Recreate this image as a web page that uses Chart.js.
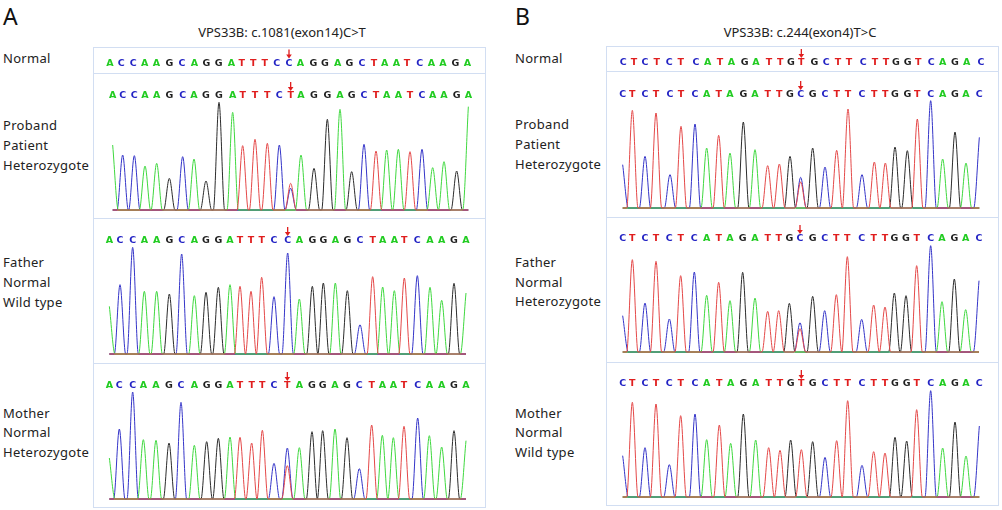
<!DOCTYPE html>
<html><head><meta charset="utf-8">
<script src="https://cdn.jsdelivr.net/npm/chart.js@4.4.1/dist/chart.umd.min.js"></script>
<style>
body{margin:0;width:1002px;height:510px;background:#fff;position:relative;overflow:hidden;font-family:"Noto Sans","Open Sans",sans-serif;color:#222}
.t{position:absolute;white-space:nowrap;font-size:13px;line-height:18px;letter-spacing:0.3px}
.big{position:absolute;font-size:23px;line-height:26px;color:#111}
.ttl{position:absolute;font-size:13px;line-height:16px;white-space:nowrap;transform:translateX(-50%)}
.cell{position:absolute;border:1px solid #d2def2;box-sizing:border-box}
canvas{position:absolute;display:block}
</style></head>
<body>
<script>
// ---------- DATA ----------
const seqA_normal  = "ACCAAGCAGGATTTCCAGGAGCTAATCAAGA".split("");
const seqA_proband = "ACCAAGCAGGATTTCTAGGAGCTAATCAAGA".split("");
const seqA_father  = "ACCAAGCAGGATTTCCAGGAGCTAATCAAGA".split("");
const seqA_mother  = "ACCAAGCAGGATTTCTAGGAGCTAATCAAGA".split("");
const seqB_normal  = "CTCTCTCATAGATTGTGCTTCTTGGTCAGAC".split("");
const seqB_proband = "CTCTCTCATAGATTGCGCTTCTTGGTCAGAC".split("");
const seqB_father  = "CTCTCTCATAGATTGCGCTTCTTGGTCAGAC".split("");
const seqB_mother  = "CTCTCTCATAGATTGTGCTTCTTGGTCAGAC".split("");
const mutIndex = 15;

// base-call scan positions
const posA_proband = [38,68,103,135,170,208,248,282,318,357,398,428,465,502,538,572,603,642,682,720,755,792,828,860,895,930,966,998,1032,1070,1105];
const posA_father  = [28,60,98,133,170,208,245,283,318,355,390,420,453,485,522,563,598,637,670,706,742,780,818,848,883,913,952,990,1025,1062,1098];
const posA_mother  = [28,58,98,130,168,207,243,283,320,355,390,420,455,487,522,562,598,636,668,705,741,778,815,847,880,912,953,988,1025,1062,1098];
const posA_normal  = [30,64,100,134,169,208,246,283,319,356,394,425,460,494,530,567,601,640,675,713,748,786,822,854,889,921,959,994,1029,1066,1102];
const posB_proband = [38,67,105,138,180,213,255,290,326,360,400,435,473,508,540,572,608,645,680,714,756,793,826,855,892,922,962,998,1035,1068,1108];
const posB_father  = [38,67,105,138,178,212,253,290,326,360,398,435,473,506,538,570,608,644,679,712,755,791,825,853,888,920,962,996,1033,1067,1107];
const posB_mother  = [38,67,105,138,178,212,255,290,328,362,400,437,476,510,542,574,608,645,680,713,756,791,825,855,890,920,962,998,1035,1068,1108];
const posB_normal  = [40,72,105,140,178,212,258,293,330,364,404,438,477,511,543,574,613,649,684,717,760,795,828,858,893,925,964,998,1035,1070,1113];

// peak intensities of the called base
const hA_proband = [195,165,163,132,140,95,160,153,87,323,293,193,212,200,195,80,165,125,272,302,115,197,177,180,182,175,182,127,145,117,310];
const hA_father  = [143,208,320,188,188,180,300,175,185,200,208,203,188,230,172,303,165,203,213,213,190,88,232,201,190,228,235,200,161,212,183];
const hA_mother  = [123,210,321,178,176,168,290,161,172,182,186,185,168,206,107,100,154,202,205,210,184,91,222,191,184,218,243,190,156,205,175];
const hB_proband = [130,293,155,285,100,245,252,180,218,165,258,175,127,132,155,92,180,123,173,297,100,138,135,183,172,267,322,147,228,135,212];
const hB_father  = [109,277,147,272,99,229,240,170,209,154,239,162,122,124,146,88,167,124,172,286,98,141,135,177,169,259,319,151,219,127,214];
const hB_mother  = [124,284,148,279,97,244,249,172,216,161,249,171,148,140,171,142,166,119,169,289,95,136,132,179,168,262,319,147,225,123,213];

// secondary (heterozygous) peaks: [index, base, intensity]
const secA_proband = [[15,"C",65]];
const secA_mother  = [[15,"C",153]];
const secB_proband = [[15,"T",78]];
const secB_father  = [[15,"T",70]];

const titleA = "VPS33B: c.1081(exon14)C>T";
const titleB = "VPS33B: c.244(exon4)T>C";
const labelsA = [["Normal"],["Proband","Patient","Heterozygote"],["Father","Normal","Wild type"],["Mother","Normal","Heterozygote"]];
const labelsB = [["Normal"],["Proband","Patient","Heterozygote"],["Father","Normal","Heterozygote"],["Mother","Normal","Wild type"]];

// ---------- STYLE / LAYOUT ----------
const letterColor = {A:"#22cc22",C:"#2323c4",G:"#1e1e1e",T:"#e01e1e"};
const traceColor  = {A:"#3fd83f",C:"#3434c8",G:"#2b2b2b",T:"#e44848"};

const panels = [
  {letter:"A", letterX:3, title:titleA, titleX:282, originX:100, L:93, R:485, rows:[47,73,218,363,507], base:[null,210,354,499], labelX:3,
   labels:labelsA, labelY:[[58],[125,145,165],[262,282,302],[413,432,452]],
   seqs:[seqA_normal,seqA_proband,seqA_father,seqA_mother], pos:[posA_normal,posA_proband,posA_father,posA_mother],
   hts:[null,hA_proband,hA_father,hA_mother], sec:[[],secA_proband,[],secA_mother], letterOff:[15.5,22,22,22]},
  {letter:"B", letterX:515, title:titleB, titleX:800, originX:610, L:606, R:998, rows:[46,71,217,362,505], base:[null,208,352,497], labelX:515,
   labels:labelsB, labelY:[[58],[124,144,164],[262,282,301],[413,432,452]],
   seqs:[seqB_normal,seqB_proband,seqB_father,seqB_mother], pos:[posB_normal,posB_proband,posB_father,posB_mother],
   hts:[null,hB_proband,hB_father,hB_mother], sec:[[],secB_proband,secB_father,[]], letterOff:[16,23,21,21]}
];

function buildTraces(bases, pos, hts, sec){
  const w = 17;
  const peaks = {A:[],C:[],G:[],T:[]};
  const last = pos.length-1;
  bases.forEach((b,i)=>peaks[b].push({p:pos[i],h:hts[i],i:i}));
  sec.forEach(s=>peaks[s[1]].push({p:pos[s[0]],h:s[2],i:s[0]}));
  const start = pos[0], end = pos[last];
  const out = {};
  for (const b of "ACGT"){
    const pk = peaks[b].sort((a,c)=>a.p-c.p);
    const pts = [];
    if (!(pk.length && pk[0].i===0)) pts.push({x:start,y:0});
    pk.forEach((k,j)=>{
      if (k.i!==0){
        const prev = pts.length ? pts[pts.length-1].x : -Infinity;
        const lx = k.p - w;
        if (lx > prev) pts.push({x:lx,y:0});
      }
      pts.push({x:k.p,y:k.h});
      if (k.i!==last){
        const next = j+1<pk.length ? pk[j+1].p : Infinity;
        pts.push({x:Math.min(k.p+w,(k.p+next)/2),y:0});
      }
    });
    if (pts[pts.length-1].x < end) pts.push({x:end,y:0});
    out[b] = pts;
  }
  return out;
}

const lettersPlugin = {
  id:"letters",
  afterDatasetsDraw(chart){
    const o = chart.options.plugins.letters;
    const ctx = chart.ctx, xs = chart.scales.x;
    ctx.save();
    ctx.font = "bold 9.5px 'DejaVu Sans', sans-serif";
    ctx.textAlign = "center"; ctx.textBaseline = "middle";
    o.seq.forEach((b,i)=>{
      const x = xs.getPixelForValue(o.pos[i]);
      ctx.fillStyle = letterColor[b];
      ctx.fillText(b, x, o.y);
      if (i===o.mut){
        ctx.strokeStyle = "#e01e1e"; ctx.fillStyle = "#e01e1e"; ctx.lineWidth = 1.3;
        ctx.beginPath(); ctx.moveTo(x, o.y-14); ctx.lineTo(x, o.y-8); ctx.stroke();
        ctx.beginPath(); ctx.moveTo(x-2.8, o.y-9); ctx.lineTo(x+2.8, o.y-9); ctx.lineTo(x, o.y-5); ctx.closePath(); ctx.fill();
      }
    });
    ctx.restore();
  }
};

function addDiv(cls, txt, x, y){
  const d = document.createElement("div"); d.className = cls; d.textContent = txt;
  d.style.left = x+"px"; d.style.top = y+"px"; document.body.appendChild(d); return d;
}

panels.forEach(P=>{
  addDiv("big", P.letter, P.letterX, 3);
  addDiv("ttl", P.title, P.titleX, 24);
  P.labels.forEach((grp,k)=>grp.forEach((s,j)=>addDiv("t", s, P.labelX, P.labelY[k][j]-9)));
  for (let k=0;k<4;k++){
    const top = P.rows[k], bot = P.rows[k+1];
    const cell = document.createElement("div"); cell.className="cell";
    cell.style.left = P.L+"px"; cell.style.top = top+"px";
    cell.style.width = (P.R-P.L+1)+"px"; cell.style.height = (bot-top+1)+"px";
    document.body.appendChild(cell);
    const cv = document.createElement("canvas");
    const cl = P.L+1, ct = top+1, cw = P.R-P.L-1, ch = bot-top-1;
    cv.width = cw; cv.height = ch;
    cv.style.left = cl+"px"; cv.style.top = ct+"px"; cv.style.width = cw+"px"; cv.style.height = ch+"px";
    document.body.appendChild(cv);
    let ymin=-30, ymax=30, datasets=[];
    if (P.hts[k]){
      const b = P.base[k]-ct;
      ymax = b*3; ymin = -(ch-b)*3;
      const tr = buildTraces(P.seqs[k], P.pos[k], P.hts[k], P.sec[k]);
      // first dataset is drawn on top; black baseline kept underneath
      datasets = "TACG".split("").map(base=>({
        label:base, data:tr[base], borderColor:traceColor[base], borderWidth:1,
        pointRadius:0, fill:false, cubicInterpolationMode:"monotone"
      }));
    }
    new Chart(cv, {
      type:"line",
      data:{datasets:datasets},
      options:{
        responsive:false, animation:false, events:[],
        layout:{padding:0},
        scales:{
          x:{type:"linear", display:false, min:(cl-P.originX)*3, max:(cl+cw-P.originX)*3},
          y:{display:false, min:ymin, max:ymax}
        },
        plugins:{legend:{display:false}, tooltip:{enabled:false},
          letters:{seq:P.seqs[k], pos:P.pos[k], y:P.letterOff[k], mut:mutIndex}}
      },
      plugins:[lettersPlugin]
    });
  }
});
</script>
</body></html>
